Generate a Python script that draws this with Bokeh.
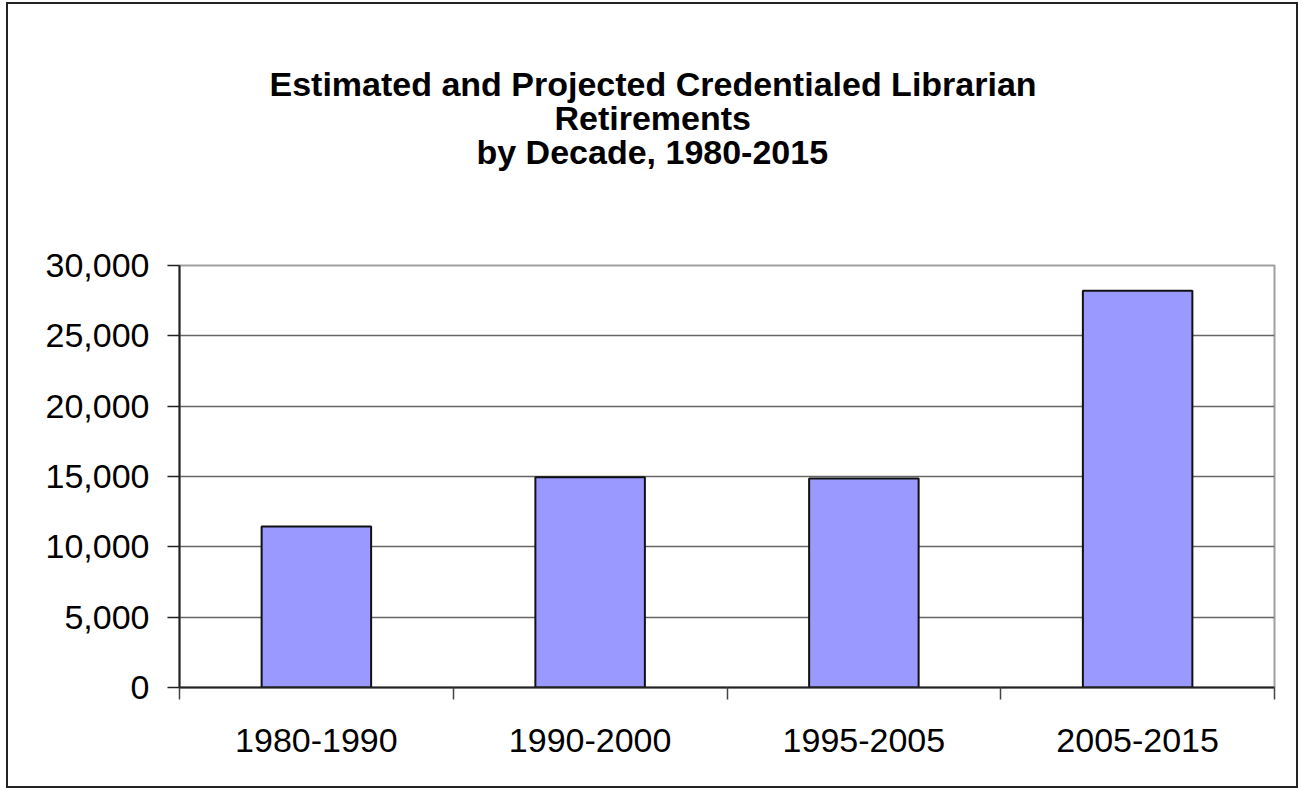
from bokeh.plotting import figure
from bokeh.models import (Range1d, FixedTicker, NumeralTickFormatter, LinearAxis, Title,
                          ColumnDataSource)
from bokeh.embed import file_html
from bokeh.resources import INLINE

categories = ["1980-1990", "1990-2000", "1995-2005", "2005-2015"]
retirements = [11450, 14950, 14860, 28200]
y_ticks = [0, 5000, 10000, 15000, 20000, 25000, 30000]
title_lines = ["Estimated and Projected Credentialed Librarian",
               "Retirements",
               "by Decade, 1980-2015"]

FONT = "Liberation Sans"
TSIZE = "34px"
LSIZE = "34px"
centers = [i + 0.5 for i in range(len(categories))]
src = ColumnDataSource(dict(x=centers, top=retirements, cat=categories))

p = figure(width=1292, height=786, output_backend="svg", toolbar_location=None,
           x_range=Range1d(0, len(categories)), y_range=Range1d(0, 30000),
           min_border_left=171, min_border_right=26, min_border_top=261,
           min_border_bottom=103, x_axis_location=None, y_axis_location=None)

p.styles = {"border": "2px solid #222222", "box-sizing": "border-box",
            "margin-left": "6px", "margin-top": "2px"}
p.background_fill_color = "white"
p.border_fill_color = "white"
p.outline_line_color = "#a0a0a0"
p.outline_line_width = 2

# titles: centred on the whole chart (offsets from the frame's left edge)
p.title.text = title_lines[0]
p.title.align = "left"
p.title.offset = 90
p.title.text_font = FONT
p.title.text_font_style = "bold"
p.title.text_font_size = TSIZE
p.title.text_color = "black"
p.title.standoff = -7
# spacer between the frame and the last title line
p.add_layout(Title(text=" ", text_font_size="2px", standoff=94), "above")
p.add_layout(Title(text=title_lines[2], align="left", offset=297, text_font=FONT,
                   text_color="black", text_font_style="bold", text_font_size=TSIZE,
                   standoff=-6), "above")
p.add_layout(Title(text=title_lines[1], align="left", offset=375, text_font=FONT,
                   text_color="black", text_font_style="bold", text_font_size=TSIZE,
                   standoff=-6), "above")

# y axis
yax = LinearAxis(ticker=FixedTicker(ticks=y_ticks),
                 formatter=NumeralTickFormatter(format="0,0"))
yax.axis_line_color = "#222222"
yax.axis_line_width = 2
yax.major_tick_line_color = "#222222"
yax.major_tick_line_width = 1.5
yax.major_tick_out = 12
yax.major_tick_in = 0
yax.minor_tick_line_color = None
yax.major_label_text_font = FONT
yax.major_label_text_font_size = LSIZE
yax.major_label_text_color = "black"
yax.major_label_standoff = 18
p.add_layout(yax, "left")

# x axis: tick marks at category boundaries
xax = LinearAxis(ticker=FixedTicker(ticks=list(range(len(categories) + 1))))
xax.axis_line_color = "#222222"
xax.axis_line_width = 2
xax.major_tick_line_color = "#444444"
xax.major_tick_line_width = 1.5
xax.major_tick_out = 12
xax.major_tick_in = 0
xax.minor_tick_line_color = None
xax.major_label_overrides = {i: "" for i in range(len(categories) + 1)}
xax.major_label_text_font_size = "1px"
xax.major_label_standoff = 0
p.add_layout(xax, "below")

# x axis: category labels at centres
xlab = LinearAxis(ticker=FixedTicker(ticks=centers))
xlab.axis_line_color = None
xlab.major_tick_line_color = None
xlab.minor_tick_line_color = None
xlab.major_label_overrides = {c: cat for c, cat in zip(centers, categories)}
xlab.major_label_text_font = FONT
xlab.major_label_text_font_size = LSIZE
xlab.major_label_text_color = "black"
xlab.major_label_standoff = 23
p.add_layout(xlab, "below")

p.xgrid.visible = False
p.ygrid.ticker = FixedTicker(ticks=y_ticks)
p.ygrid.grid_line_color = "#666666"
p.ygrid.grid_line_width = 1.5

p.vbar(x="x", top="top", bottom=0, width=0.4, source=src,
       fill_color="#9999FF", line_color="#111111", line_width=2)

open("out.html", "w").write(file_html(p, INLINE))
